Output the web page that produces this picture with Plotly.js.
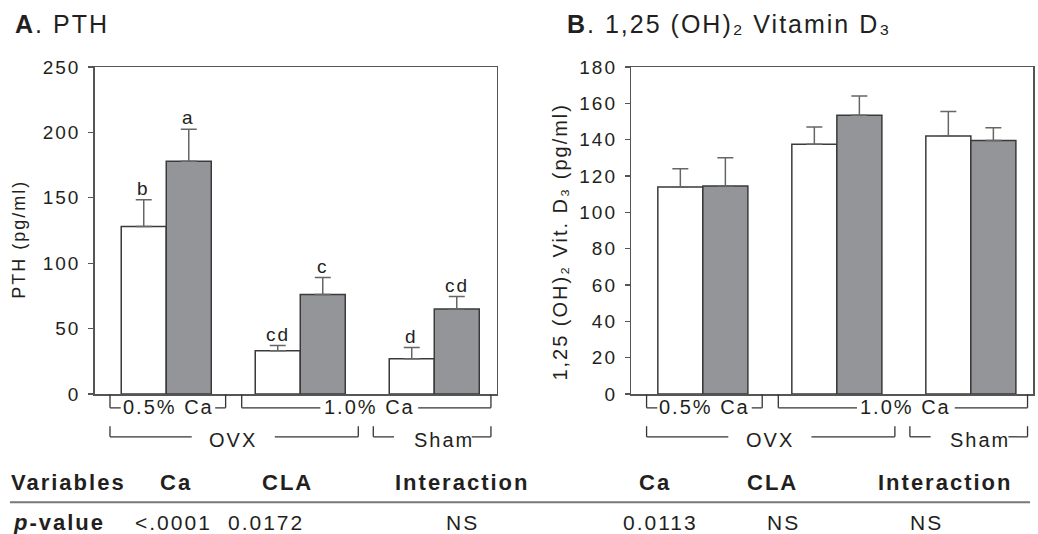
<!DOCTYPE html>
<html>
<head>
<meta charset="utf-8">
<script src="https://cdn.plot.ly/plotly-3.0.1.min.js"></script>
<style>
  html, body { margin: 0; padding: 0; background: #fff; }
  #chart { width: 1038px; height: 534px; }
  text { letter-spacing: 2px; }
</style>
</head>
<body>
<div id="chart"></div>
<script>
// ---------------- DATA ----------------
var groups = ['0.5% Ca OVX', '1.0% Ca OVX', '1.0% Ca Sham'];

// Panel A: PTH (pg/ml)
var pthControl = [128, 33, 27];
var pthControlErr = [20.5, 4, 8.5];
var pthCLA = [178, 76, 65];
var pthCLAErr = [24.5, 13, 9.5];
var pthLettersControl = ['b', 'cd', 'd'];
var pthLettersCLA = ['a', 'c', 'cd'];

// Panel B: 1,25 (OH)2 Vitamin D3 (pg/ml)
var vitControl = [114, 137.5, 142];
var vitControlErr = [10, 9.5, 13.5];
var vitCLA = [114.5, 153.5, 139.5];
var vitCLAErr = [15.5, 10.5, 7];

// Tick values
var pthTicks = [0, 50, 100, 150, 200, 250];
var vitTicks = [0, 20, 40, 60, 80, 100, 120, 140, 160, 180];

// p-value table
var tableHeaders = ['Ca', 'CLA', 'Interaction'];
var pValuesA = ['<.0001', '0.0172', 'NS'];
var pValuesB = ['0.0113', 'NS', 'NS'];

// ---------------- STYLE ----------------
var FONT = 'Liberation Sans, Arial, Helvetica, sans-serif';
var TXT = '#231f20';
var GRAY = '#939598';
var OUTLINE = '#3a3a3a';
var ERRC = '#666666';

function zeros(n) { var a = []; for (var i = 0; i < n; i++) a.push(0); return a; }

function barTrace(name, y, err, fill, xa, ya) {
  return {
    type: 'bar', name: name, x: groups, y: y,
    xaxis: xa, yaxis: ya,
    marker: { color: fill, line: { color: OUTLINE, width: 1.5 } },
    error_y: { type: 'data', symmetric: false, array: err, arrayminus: zeros(err.length),
               color: ERRC, thickness: 1.5, width: 8 },
    hoverinfo: 'x+y', showlegend: false
  };
}

var data = [
  barTrace('Control', pthControl, pthControlErr, '#ffffff', 'x', 'y'),
  barTrace('CLA', pthCLA, pthCLAErr, GRAY, 'x', 'y'),
  barTrace('Control', vitControl, vitControlErr, '#ffffff', 'x2', 'y2'),
  barTrace('CLA', vitCLA, vitCLAErr, GRAY, 'x2', 'y2')
];

// ---------------- LAYOUT HELPERS ----------------
var annotations = [];
var shapes = [];

// significance letters above error bars (panel A)
var OFFSET = 0.168; // half bar offset in category units
function addLetters(letters, vals, errs, dx) {
  for (var i = 0; i < letters.length; i++) {
    annotations.push({
      xref: 'x', yref: 'y', x: i + dx, y: vals[i] + errs[i],
      text: letters[i], showarrow: false, xanchor: 'center', yanchor: 'bottom', yshift: -1,
      font: { family: FONT, size: 19, color: TXT }
    });
  }
}
addLetters(pthLettersControl, pthControl, pthControlErr, -OFFSET);
addLetters(pthLettersCLA, pthCLA, pthCLAErr, OFFSET);

// brackets under x axes
var LINEC = '#333333';
var L1_TOP = -0.0015, L1_Y = -0.0422, L2_TOP = -0.0985, L2_Y = -0.1309;
function seg(xref, x0, y0, x1, y1) {
  shapes.push({ type: 'line', xref: xref, yref: 'paper', x0: x0, y0: y0, x1: x1, y1: y1,
                line: { color: LINEC, width: 1.3 } });
}
function bracket(xref, x0, x1, g0, g1, top, y, label, lx, ly) {
  seg(xref, x0, top, x0, y);
  seg(xref, x1, top, x1, y);
  seg(xref, x0, y, g0, y);
  seg(xref, g1, y, x1, y);
  annotations.push({
    xref: xref, yref: 'paper', x: lx, y: ly, text: label, showarrow: false,
    xanchor: 'center', yanchor: 'middle',
    font: { family: FONT, size: 20, color: TXT }
  });
}
['x', 'x2'].forEach(function (xr) {
  bracket(xr, -0.42, 0.443, -0.34, 0.365, L1_TOP, L1_Y, '0.5% Ca', 0.015, -0.04);
  bracket(xr, 0.563, 2.423, 1.15, 1.88, L1_TOP, L1_Y, '1.0% Ca', 1.515, -0.04);
  bracket(xr, -0.42, 1.433, 0.19, 0.81, L2_TOP, L2_Y, 'OVX', 0.5, -0.141);
  bracket(xr, 1.545, 2.423, 1.70, 2.28, L2_TOP, L2_Y, 'Sham', 2.07, -0.141);
});

// panel titles
var W = 1038;
annotations.push({
  xref: 'paper', yref: 'paper', x: 13 / W, y: 1.13, xanchor: 'left', yanchor: 'middle',
  text: '<b>A</b>. PTH', showarrow: false, font: { family: FONT, size: 25, color: TXT }
});
annotations.push({
  xref: 'paper', yref: 'paper', x: 565 / W, y: 1.13, xanchor: 'left', yanchor: 'middle',
  text: '<b>B</b>. 1,25 (OH)\u2082 Vitamin D\u2083', showarrow: false,
  font: { family: FONT, size: 25, color: TXT }
});

// y-axis titles (rotated)
annotations.push({
  xref: 'paper', yref: 'paper', x: 19 / W, y: 0.472, xanchor: 'center', yanchor: 'middle',
  textangle: -90, text: 'PTH (pg/ml)', showarrow: false, font: { family: FONT, size: 18, color: TXT }
});
annotations.push({
  xref: 'paper', yref: 'paper', x: 560 / W, y: 0.466, xanchor: 'center', yanchor: 'middle',
  textangle: -90, text: '1,25 (OH)\u2082 Vit. D\u2083 (pg/ml)', showarrow: false,
  font: { family: FONT, size: 20, color: TXT }
});

// p-value table
function py(px) { return (394.5 - px) / 327; }
var HDR_Y = py(483), ROW_Y = py(523);
annotations.push({ xref: 'paper', yref: 'paper', x: 9 / W, y: HDR_Y, xanchor: 'left', yanchor: 'middle',
  text: '<b>Variables</b>', showarrow: false, font: { family: FONT, size: 22, color: TXT } });
annotations.push({ xref: 'paper', yref: 'paper', x: 11 / W, y: ROW_Y, xanchor: 'left', yanchor: 'middle',
  text: '<b><i>p</i>-value</b>', showarrow: false, font: { family: FONT, size: 22, color: TXT } });
var hdrXA = [176, 287, 462], hdrXB = [655, 772, 945];
var rowXA = [173, 266, 462], rowXB = [660, 783, 926];
for (var i = 0; i < tableHeaders.length; i++) {
  annotations.push({ xref: 'paper', yref: 'paper', x: hdrXA[i] / W, y: HDR_Y, xanchor: 'center', yanchor: 'middle',
    text: '<b>' + tableHeaders[i] + '</b>', showarrow: false, font: { family: FONT, size: 22, color: TXT } });
  annotations.push({ xref: 'paper', yref: 'paper', x: hdrXB[i] / W, y: HDR_Y, xanchor: 'center', yanchor: 'middle',
    text: '<b>' + tableHeaders[i] + '</b>', showarrow: false, font: { family: FONT, size: 22, color: TXT } });
  annotations.push({ xref: 'paper', yref: 'paper', x: rowXA[i] / W, y: ROW_Y, xanchor: 'center', yanchor: 'middle',
    text: pValuesA[i], showarrow: false, font: { family: FONT, size: 21, color: TXT } });
  annotations.push({ xref: 'paper', yref: 'paper', x: rowXB[i] / W, y: ROW_Y, xanchor: 'center', yanchor: 'middle',
    text: pValuesB[i], showarrow: false, font: { family: FONT, size: 21, color: TXT } });
}
shapes.push({ type: 'line', xref: 'paper', yref: 'paper', x0: 10 / W, x1: 1030 / W, y0: py(502.7), y1: py(502.7),
  line: { color: '#777777', width: 2 } });

// axes
function xAxis(domain, anchor) {
  return {
    domain: domain, anchor: anchor, type: 'category', range: [-0.534, 2.466],
    showticklabels: false, ticks: '', showgrid: false, zeroline: false,
    showline: true, mirror: true, linecolor: '#555555', linewidth: 1.5, fixedrange: true
  };
}
function yAxis(range, ticks, anchor) {
  return {
    anchor: anchor, range: range, tickmode: 'array', tickvals: ticks,
    ticks: 'outside', ticklen: 5, tickwidth: 1.3, tickcolor: '#555555', ticklabelstandoff: 4,
    showgrid: false, zeroline: false, showline: true, mirror: true,
    linecolor: '#555555', linewidth: 1.5, fixedrange: true,
    tickfont: { family: FONT, size: 19, color: TXT }
  };
}

var layout = {
  width: 1038, height: 534,
  margin: { l: 0, r: 0, t: 67, b: 139.5 },
  paper_bgcolor: '#ffffff', plot_bgcolor: '#ffffff',
  barmode: 'group', bargap: 0.328, bargroupgap: 0,
  showlegend: false,
  xaxis: xAxis([94.7 / W, 496.7 / W], 'y'),
  yaxis: yAxis([0, 250], pthTicks, 'x'),
  xaxis2: xAxis([631.3 / W, 1033.3 / W], 'y2'),
  yaxis2: yAxis([0, 180], vitTicks, 'x2'),
  annotations: annotations,
  shapes: shapes
};

Plotly.newPlot('chart', data, layout, { displayModeBar: false, staticPlot: true });
</script>
</body>
</html>
